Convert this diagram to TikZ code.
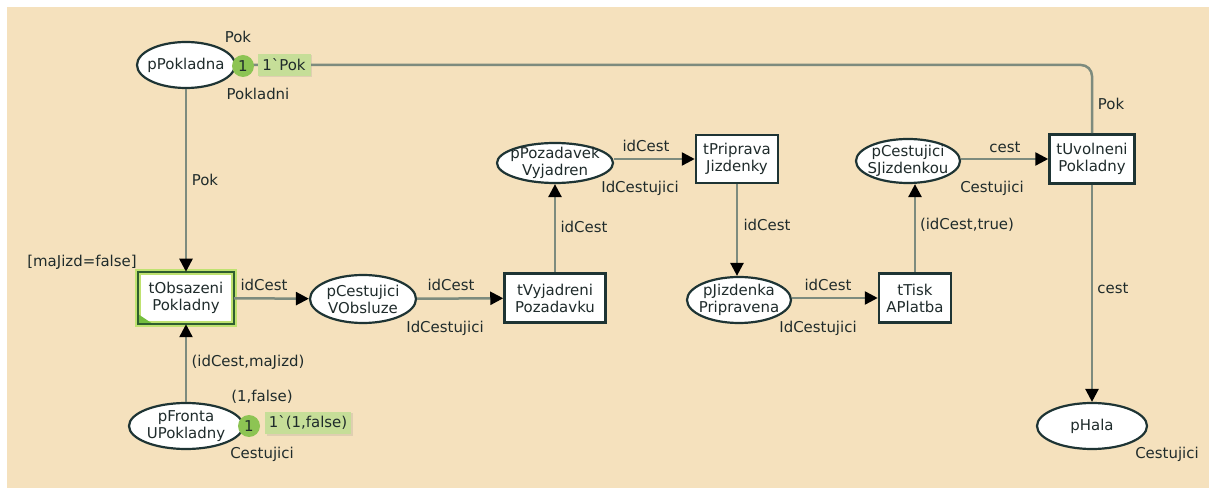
\documentclass[tikz,border=0pt]{standalone}
\usepackage{fontspec}
\setmainfont{DejaVu Sans}[Ligatures=TeXOff]
\usetikzlibrary{shapes.geometric,arrows.meta,shadows}

\definecolor{canvas}{HTML}{F5E1BD}
\definecolor{arcgray}{HTML}{7D8B7E}
\definecolor{outline}{HTML}{1E3434}
\definecolor{inkc}{HTML}{1F2B2B}
\definecolor{tokgreen}{HTML}{8DC453}
\definecolor{markgreen}{HTML}{C6DE98}
\definecolor{glow}{HTML}{BFE270}
\definecolor{darkgreen}{HTML}{2F5E2F}
\definecolor{cornergreen}{HTML}{74BE3E}

\tikzset{
  every node/.style={font=\fontsize{15}{17}\selectfont, text=inkc},
  every label/.style={align=center, inner sep=0pt},
  place/.style={ellipse, draw=outline, line width=2.2bp, fill=white, inner sep=0pt},
  trans/.style={rectangle, draw=outline, line width=2.5bp, fill=white, inner sep=0pt, align=center},
  arc/.style={draw=arcgray, line width=2.5bp,
    -{Triangle[length=13bp,width=13bp,color=black]}},
  lbl/.style={inner sep=0pt},
  token/.style={circle, fill=tokgreen, inner sep=0pt, minimum size=22bp},
  marking/.style={fill=markgreen, inner sep=2bp, minimum height=22bp,
    drop shadow={opacity=0.18, shadow xshift=1.5bp, shadow yshift=-1.5bp}},
}

\begin{document}
\begin{tikzpicture}[x=1bp, y=-1bp]
  \useasboundingbox (0,0) rectangle (1209,488);
  \fill[white] (0,0) rectangle (1209,488);
  \fill[canvas] (7,7) rectangle (1209,488);

  % places (ellipse size fixed, name written at the centre)
  \node[place, minimum width=98bp, minimum height=46bp, label={center:pPokladna}] (pPok) at (186,65) {};
  \node[place, minimum width=114bp, minimum height=46bp, label={center:pFronta\\UPokladny}] (pFro) at (186,426) {};
  \node[place, minimum width=106bp, minimum height=48bp, label={center:pCestujici\\VObsluze}] (pCVO) at (363,299) {};
  \node[place, minimum width=116bp, minimum height=40bp, label={center:pPozadavek\\Vyjadren}] (pPoz) at (555,163) {};
  \node[place, minimum width=104bp, minimum height=46bp, label={center:pJizdenka\\Pripravena}] (pJiz) at (739,300) {};
  \node[place, minimum width=104bp, minimum height=44bp, label={center:pCestujici\\SJizdenkou}] (pCSJ) at (908,161) {};
  \node[place, minimum width=110bp, minimum height=46bp, label={center:pHala}] (pHal) at (1092,426) {};

  % transitions
  \node[trans, draw=none, minimum width=93bp, minimum height=50bp] (tObs) at (186,298) {tObsazeni\\Pokladny};
  \node[trans, minimum width=101bp, minimum height=49bp] (tVyj) at (555,298) {tVyjadreni\\Pozadavku};
  \node[trans, minimum width=82bp, minimum height=48bp] (tPri) at (737,159) {tPriprava\\Jizdenky};
  \node[trans, minimum width=72bp, minimum height=49bp] (tTis) at (915,298) {tTisk\\APlatba};
  \node[trans, minimum width=85bp, minimum height=49bp] (tUvo) at (1092,159) {tUvolneni\\Pokladny};

  % enabled transition highlight
  \draw[glow, line width=6bp] (tObs.south west) rectangle (tObs.north east);
  \fill[cornergreen] (tObs.south west) -- ++(15,0) -- ++(-15,-10) -- cycle;
  \draw[darkgreen, line width=1.6bp] (tObs.south west) rectangle (tObs.north east);

  % arcs
  \draw[arc] (pPok) -- (tObs);
  \draw[arc] (pFro) -- (tObs);
  \draw[arc] (tObs) -- (pCVO);
  \draw[arc] (pCVO) -- (tVyj);
  \draw[arc] (tVyj) -- (pPoz);
  \draw[arc] (pPoz.east |- tPri.west) -- (tPri.west);
  \draw[arc] (tPri.south) -- (tPri.south |- pJiz.north);
  \draw[arc] (pJiz.east |- tTis.west) -- (tTis.west);
  \draw[arc] (tTis.north) -- (tTis.north |- pCSJ.south);
  \draw[arc] (pCSJ.east |- tUvo.west) -- (tUvo.west);
  \draw[arc] (tUvo) -- (pHal);
  \draw[arc, rounded corners=11bp] (tUvo.north) |- (pPok.east);

  % arc inscriptions
  \node[lbl] (iPok1) at (205,180) {Pok};
  \node[lbl] (iGuard) at (82,262) {[maJizd=false]};
  \node[lbl] (iObsOut) at (264,285) {idCest};
  \node[lbl] (iFroIn) at (248,362) {(idCest,maJizd)};
  \node[lbl] (iCVO) at (451,285) {idCest};
  \node[lbl] (iVyj) at (584,227) {idCest};
  \node[lbl] (iPoz) at (646,146) {idCest};
  \node[lbl] (iPri) at (767,225) {idCest};
  \node[lbl] (iJiz) at (828,285) {idCest};
  \node[lbl] (iTis) at (967,225) {(idCest,true)};
  \node[lbl] (iCSJ) at (1005,147) {cest};
  \node[lbl] (iUvo) at (1113,288) {cest};
  \node[lbl] (iPok2) at (1111,104) {Pok};

  % colour sets and initial markings
  \node[lbl] (cPok) at (258,94) {Pokladni};
  \node[lbl] (mPok) at (238,37) {Pok};
  \node[lbl] (cFro) at (262,454) {Cestujici};
  \node[lbl] (mFro) at (262,397) {(1,false)};
  \node[lbl] (cCVO) at (445,328) {IdCestujici};
  \node[lbl] (cPoz) at (640,188) {IdCestujici};
  \node[lbl] (cJiz) at (818,328) {IdCestujici};
  \node[lbl] (cCSJ) at (992,188) {Cestujici};
  \node[lbl] (cHal) at (1167,454) {Cestujici};

  % current markings
  \node[marking, minimum width=53bp] (kPok) at (284,65) {1`Pok};
  \node[token] (nPok) at (243,66) {1};
  \node[marking, minimum width=86bp] (kFro) at (308,423) {1`(1,false)};
  \node[token] (nFro) at (249,426) {1};
\end{tikzpicture}
\end{document}
